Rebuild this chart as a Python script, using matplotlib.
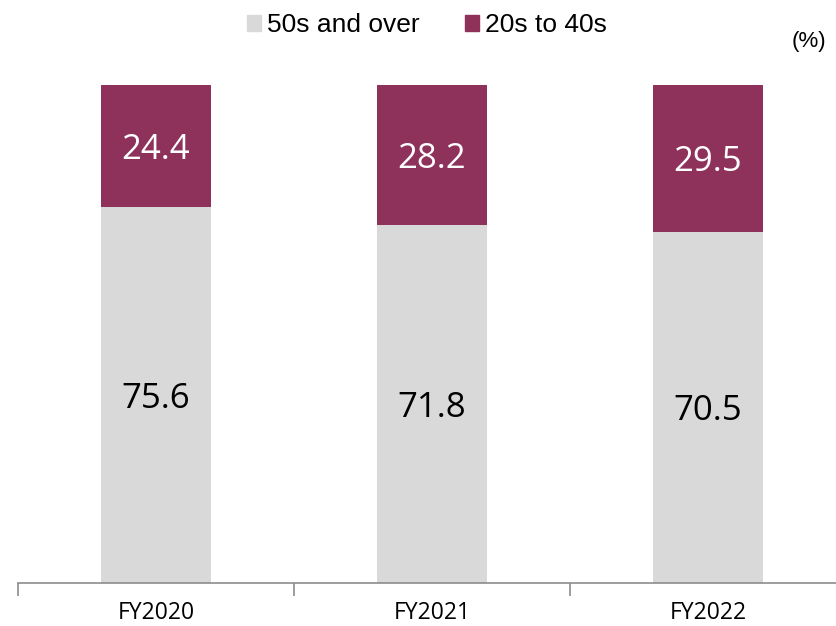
import matplotlib.pyplot as plt
import numpy as np
from matplotlib.patches import Patch

years = ['FY2020', 'FY2021', 'FY2022']
over50 = [75.6, 71.8, 70.5]
age20to40 = [24.4, 28.2, 29.5]

GREY = '#D9D9D9'
MAROON = '#8E325C'

W, H = 836, 626
fig = plt.figure(figsize=(W / 100, H / 100), dpi=100)
# axis runs from x=18 px to beyond the right edge, baseline at y=583 px
ax = fig.add_axes([18 / W, 43 / H, 828 / W, 498 / H])

x = np.arange(len(years))
ax.bar(x, over50, width=0.4, color=GREY)
ax.bar(x, age20to40, width=0.4, bottom=over50, color=MAROON)

for i in range(len(years)):
    ax.annotate('%.1f' % over50[i], (x[i], over50[i] / 2), xytext=(0, -4),
                textcoords='offset pixels', ha='center', va='center',
                fontsize=25, family='Open Sans', color='black')
    ax.annotate('%.1f' % age20to40[i], (x[i], over50[i] + age20to40[i] / 2),
                xytext=(0, -4), textcoords='offset pixels', ha='center', va='center',
                fontsize=25, family='Open Sans', color='white')

ax.set_xlim(-0.5, 2.5)
ax.set_ylim(0, 100)
ax.set_xticks([-0.5, 0.5, 1.5, 2.5])
ax.set_xticklabels([])
ax.set_xticks(x, minor=True)
ax.set_xticklabels(years, minor=True, fontsize=16.5, family='Open Sans')
ax.tick_params(axis='x', which='major', length=9, color='#8C8C8C', width=1.2)
ax.tick_params(axis='x', which='minor', length=0, pad=13)
ax.set_yticks([])
for s in ['top', 'right', 'left']:
    ax.spines[s].set_visible(False)
ax.spines['bottom'].set_color('#8C8C8C')
ax.spines['bottom'].set_linewidth(1.2)

handles = [Patch(color=GREY, label='50s and over'), Patch(color=MAROON, label='20s to 40s')]
fig.legend(handles=handles, loc='center', bbox_to_anchor=(427 / W, 1 - 25 / H), ncol=2,
           frameon=False, prop={'family': 'Liberation Sans', 'size': 19},
           handlelength=0.55, handleheight=0.55, handletextpad=0.23, columnspacing=1.7,
           borderpad=0, borderaxespad=0)
fig.text(826 / W, 1 - 41 / H, '(%)', ha='right', va='center', fontsize=16,
         family='Liberation Sans')

fig.savefig('out.png', dpi=100)
